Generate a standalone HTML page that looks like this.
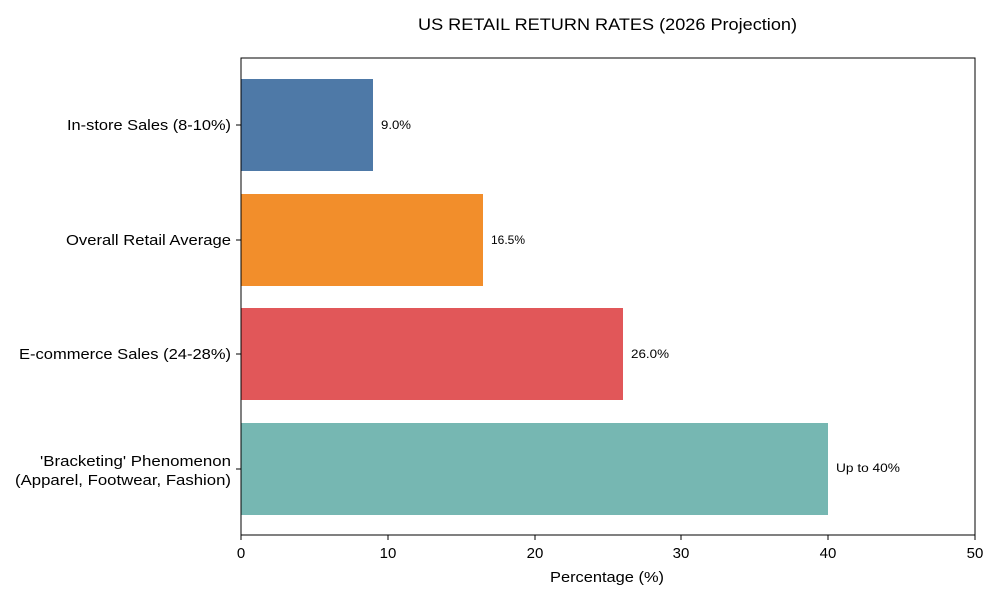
<!DOCTYPE html>
<html><head><meta charset="utf-8"><style>
body{margin:0;background:#fff;}
text{font-family:"Liberation Sans",sans-serif;fill:#000;}
</style></head><body>
<svg width="1000" height="600" xmlns="http://www.w3.org/2000/svg">
<text x="418" y="30" font-size="17" textLength="379" lengthAdjust="spacingAndGlyphs">US RETAIL RETURN RATES (2026 Projection)</text>
<rect x="241" y="79" width="132" height="92" fill="#4e79a7"/>
<rect x="241" y="194" width="242" height="92" fill="#f28e2b"/>
<rect x="241" y="308" width="382" height="92" fill="#e15759"/>
<rect x="241" y="423" width="587" height="92" fill="#76b7b2"/>
<rect x="241" y="58" width="734" height="477" fill="none" stroke="#000" stroke-width="1"/>
<g font-size="12">
<text x="381" y="129" textLength="30" lengthAdjust="spacingAndGlyphs">9.0%</text>
<text x="491" y="244" textLength="34" lengthAdjust="spacingAndGlyphs">16.5%</text>
<text x="631" y="358" textLength="38" lengthAdjust="spacingAndGlyphs">26.0%</text>
<text x="836" y="472" textLength="64" lengthAdjust="spacingAndGlyphs">Up to 40%</text>
</g>
<g stroke="#000">
<line x1="241" y1="535" x2="241" y2="540"/><line x1="388" y1="535" x2="388" y2="540"/>
<line x1="535" y1="535" x2="535" y2="540"/><line x1="681" y1="535" x2="681" y2="540"/>
<line x1="828" y1="535" x2="828" y2="540"/><line x1="975" y1="535" x2="975" y2="540"/>
<line x1="236" y1="125" x2="241" y2="125"/><line x1="236" y1="240" x2="241" y2="240"/>
<line x1="236" y1="354" x2="241" y2="354"/><line x1="236" y1="469" x2="241" y2="469"/>
</g>
<g font-size="15" text-anchor="middle">
<text x="241" y="558">0</text><text x="388" y="558">10</text><text x="535" y="558">20</text>
<text x="681" y="558">30</text><text x="828" y="558">40</text><text x="975" y="558">50</text>
</g>
<text x="550" y="582" font-size="15" textLength="114" lengthAdjust="spacingAndGlyphs">Percentage (%)</text>
<g font-size="15">
<text x="67" y="130" textLength="164" lengthAdjust="spacingAndGlyphs">In-store Sales (8-10%)</text>
<text x="66" y="245" textLength="165" lengthAdjust="spacingAndGlyphs">Overall Retail Average</text>
<text x="19" y="359" textLength="212" lengthAdjust="spacingAndGlyphs">E-commerce Sales (24-28%)</text>
<text x="40" y="466" textLength="191" lengthAdjust="spacingAndGlyphs">'Bracketing' Phenomenon</text>
<text x="15" y="485" textLength="216" lengthAdjust="spacingAndGlyphs">(Apparel, Footwear, Fashion)</text>
</g>
</svg>
</body></html>
